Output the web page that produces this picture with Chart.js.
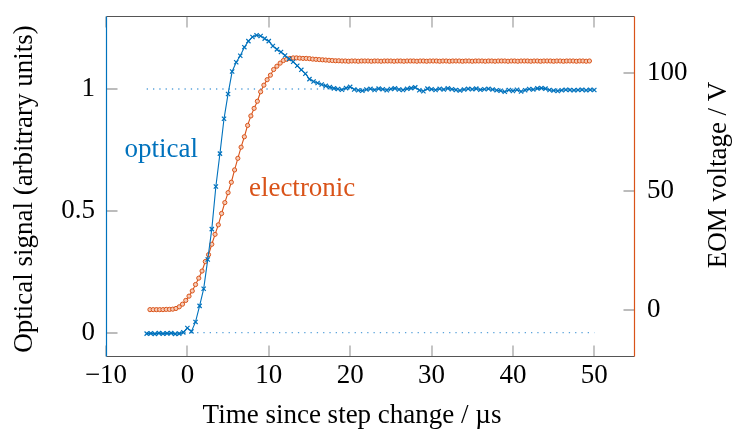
<!DOCTYPE html>
<html>
<head>
<meta charset="utf-8">
<script src="https://cdn.jsdelivr.net/npm/chart.js@4/dist/chart.umd.min.js"></script>
<style>
html,body{margin:0;padding:0;background:#fff;}
canvas{display:block;}
</style>
</head>
<body>
<canvas id="c" width="733" height="437"></canvas>
<script>
// ---- data ----
const optTime = [-5,-4.5,-4,-3.5,-3,-2.5,-2,-1.5,-1,-0.5,
  0,0.5,1,1.5,2,2.5,3,3.5,4,4.5,
  5,5.5,6,6.5,7,7.5,8,8.5,9,9.5,
  10,10.5,11,11.5,12,12.5,13,13.5,14,14.5,
  15,15.5,16,16.5,17,17.5,18,18.5,19,19.5,
  20,20.5,21,21.5,22,22.5,23,23.5,24,24.5,
  25,25.5,26,26.5,27,27.5,28,28.5,29,29.5,
  30,30.5,31,31.5,32,32.5,33,33.5,34,34.5,
  35,35.5,36,36.5,37,37.5,38,38.5,39,39.5,
  40,40.5,41,41.5,42,42.5,43,43.5,44,44.5,
  45,45.5,46,46.5,47,47.5,48,48.5,49,49.5,50];
const optSignal = [-0.004,-0.003,-0.005,-0.002,-0.004,-0.003,-0.002,-0.005,-0.004,0.001,
  0.019,0.005,0.044,0.110,0.180,0.300,0.425,0.600,0.735,0.878,
  0.980,1.072,1.110,1.137,1.172,1.197,1.214,1.221,1.218,1.207,
  1.197,1.177,1.163,1.152,1.138,1.124,1.112,1.096,1.079,1.063,
  1.041,1.031,1.025,1.019,1.013,1.008,1.003,1.000,0.997,1.004,
  1.009,0.998,0.995,0.993,0.998,1.001,0.996,1.002,0.999,0.995,
  1.000,1.003,0.998,0.996,1.001,1.004,1.007,0.995,0.991,1.002,
  0.999,0.996,1.001,0.998,1.003,0.999,0.996,0.994,0.998,1.001,
  0.999,1.002,0.997,0.999,1.001,0.998,0.995,0.993,0.989,0.996,
  0.992,0.997,0.990,0.995,1.000,0.998,1.003,1.004,1.002,0.996,
  0.994,0.992,0.995,0.997,0.996,0.995,0.996,0.997,0.995,0.997,0.996];
const eomTime = [-4.6,-4.2,-3.8,-3.4,-3.0,-2.6,-2.2,-1.8,-1.4,-1.0,
  -0.6,-0.2,0.2,0.6,1.0,1.4,1.8,2.2,2.6,3.0,
  3.4,3.8,4.2,4.6,5.0,5.4,5.8,6.2,6.6,7.0,
  7.4,7.8,8.2,8.6,9.0,9.4,9.8,10.2,10.6,11.0,
  11.4,11.8,12.2,12.6,13.0,13.4,13.8,14.2,14.6,15.0,
  15.4,15.8,16.2,16.6,17.0,17.4,17.8,18.2,18.6,19.0,
  19.4,19.8,20.2,20.6,21.0,21.4,21.8,22.2,22.6,23.0,
  23.4,23.8,24.2,24.6,25.0,25.4,25.8,26.2,26.6,27.0,
  27.4,27.8,28.2,28.6,29.0,29.4,29.8,30.2,30.6,31.0,
  31.4,31.8,32.2,32.6,33.0,33.4,33.8,34.2,34.6,35.0,
  35.4,35.8,36.2,36.6,37.0,37.4,37.8,38.2,38.6,39.0,
  39.4,39.8,40.2,40.6,41.0,41.4,41.8,42.2,42.6,43.0,
  43.4,43.8,44.2,44.6,45.0,45.4,45.8,46.2,46.6,47.0,
  47.4,47.8,48.2,48.6,49.0,49.4];
const eomVoltage = [0.0,0.0,0.0,0.0,0.0,0.1,0.1,0.2,0.5,1.2,
  2.3,3.9,5.7,7.9,10.6,13.3,16.3,20.3,23.2,27.6,
  31.8,35.8,40.6,45.2,49.4,53.8,59.0,63.9,68.6,73.0,
  77.8,81.8,85.0,88.0,92.0,94.8,97.1,99.0,101.4,102.8,
  104.1,105.2,105.7,106.1,106.3,106.3,106.2,106.1,106.1,106.0,
  105.8,105.7,105.6,105.5,105.4,105.3,105.2,105.1,105.1,105.0,
  105.0,104.9,105.0,105.0,104.9,105.0,105.0,105.0,104.9,105.0,
  105.0,104.9,105.0,105.0,105.0,104.9,105.0,105.0,104.9,105.0,
  105.0,105.0,104.9,105.0,105.0,104.9,105.0,105.0,105.0,104.9,
  105.0,105.0,104.9,105.0,105.0,105.0,104.9,105.0,105.0,104.9,
  105.0,105.0,105.0,104.9,105.0,105.0,104.9,105.0,105.0,105.0,
  104.9,105.0,105.0,104.9,105.0,105.0,105.0,104.9,105.0,105.0,
  104.9,105.0,105.0,105.0,104.9,105.0,105.0,104.9,105.0,105.0,
  105.0,104.9,105.0,105.0,104.9,105.0];
const refTime = [-5, 50];
const refLevels = [0, 1];
const xTicks = [-10, 0, 10, 20, 30, 40, 50];
const yTicks = [0, 0.5, 1];
const y2Ticks = [0, 50, 100];
const seriesNames = ['optical', 'electronic'];
const xTitle = 'Time since step change / \u00b5s';
const yTitle = 'Optical signal (arbitrary units)';
const y2Title = 'EOM voltage / V';

// ---- style ----
const BLUE = '#0072BD';
const ORANGE = '#D95319';
const FONT = '"Liberation Serif", "Times New Roman", serif';
const FS = 27;

const zip = (xs, ys) => xs.map((x, i) => ({x: x, y: ys[i]}));
const fmt = v => String(v).replace('-', '\u2212');

const datasets = refLevels.map(l => ({
  data: zip(refTime, [l, l]), yAxisID: 'y', borderColor: '#5aa3db', borderWidth: 1.4,
  borderDash: [1.3, 5], pointRadius: 0, fill: false, order: 3
}));
datasets.push({
  label: seriesNames[1], data: zip(eomTime, eomVoltage), yAxisID: 'y2',
  borderColor: ORANGE, borderWidth: 1.1, pointStyle: 'circle', pointRadius: 2.1,
  pointBorderWidth: 1, pointBorderColor: ORANGE, pointBackgroundColor: '#f6cbb6',
  fill: false, tension: 0, order: 2
});
datasets.push({
  label: seriesNames[0], data: zip(optTime, optSignal), yAxisID: 'y',
  borderColor: BLUE, borderWidth: 1.1, pointStyle: 'crossRot', pointRadius: 3,
  pointBorderWidth: 1.2, pointBorderColor: BLUE, fill: false, tension: 0, order: 1
});

const tickFont = {family: FONT, size: FS};

const frame = {
  id: 'frame',
  afterDraw(chart) {
    const ctx = chart.ctx, a = chart.chartArea;
    const sx = chart.scales.x, sy = chart.scales.y, sy2 = chart.scales.y2;
    const L = Math.round(a.left) + 0.5, R = Math.round(a.right) - 0.5;
    const T = Math.round(a.top) + 0.5, B = Math.round(a.bottom) - 0.5;
    const TL = 11;
    ctx.save();
    ctx.strokeStyle = '#a6a6a6';
    ctx.lineWidth = 1.3;
    ctx.beginPath();
    xTicks.forEach(v => {
      const p = Math.round(sx.getPixelForValue(v));
      ctx.moveTo(p, B); ctx.lineTo(p, B - TL);
      ctx.moveTo(p, T); ctx.lineTo(p, T + TL);
    });
    yTicks.forEach(v => {
      const p = Math.round(sy.getPixelForValue(v));
      ctx.moveTo(L, p); ctx.lineTo(L + TL, p);
    });
    y2Ticks.forEach(v => {
      const p = Math.round(sy2.getPixelForValue(v));
      ctx.moveTo(R, p); ctx.lineTo(R - TL, p);
    });
    ctx.stroke();
    ctx.lineWidth = 1.2;
    ctx.strokeStyle = '#555555';
    ctx.beginPath();
    ctx.moveTo(L, T); ctx.lineTo(R, T);
    ctx.moveTo(L, B); ctx.lineTo(R, B);
    ctx.stroke();
    ctx.strokeStyle = BLUE;
    ctx.beginPath(); ctx.moveTo(L, T); ctx.lineTo(L, B); ctx.stroke();
    ctx.strokeStyle = ORANGE;
    ctx.beginPath(); ctx.moveTo(R, T); ctx.lineTo(R, B); ctx.stroke();

    // series annotations
    ctx.font = FS + 'px ' + FONT;
    ctx.textAlign = 'center';
    ctx.textBaseline = 'alphabetic';
    ctx.fillStyle = BLUE;
    ctx.fillText(seriesNames[0], sx.getPixelForValue(-3.2), sy.getPixelForValue(0.721));
    ctx.fillStyle = ORANGE;
    ctx.fillText(seriesNames[1], sx.getPixelForValue(14.1), sy.getPixelForValue(0.561));

    // axis titles
    ctx.fillStyle = '#000';
    ctx.fillText(xTitle, 352, 423);
    ctx.save();
    ctx.translate(32, 189);
    ctx.rotate(-Math.PI / 2);
    ctx.fillText(yTitle, 0, 0);
    ctx.restore();
    ctx.save();
    ctx.translate(726, 175);
    ctx.rotate(-Math.PI / 2);
    ctx.fillText(y2Title, 0, 0);
    ctx.restore();
    ctx.restore();
  }
};

function setTicks(list) {
  return s => { s.ticks = list.map(v => ({value: v})); };
}
function fixV(w) {
  return s => { s.width = w; s.paddingTop = 0; s.paddingBottom = 0; };
}

new Chart(document.getElementById('c'), {
  type: 'line',
  data: {datasets: datasets},
  options: {
    responsive: false, animation: false, devicePixelRatio: 1,
    layout: {padding: {top: 16, left: 0, right: 0, bottom: 0}},
    plugins: {legend: {display: false}, tooltip: {enabled: false}},
    scales: {
      x: {
        type: 'linear', position: 'bottom', min: -10, max: 55,
        afterBuildTicks: setTicks(xTicks),
        afterFit: s => { s.height = 80; s.paddingLeft = 0; s.paddingRight = 0; },
        grid: {display: false, drawTicks: false}, border: {display: false},
        ticks: {font: tickFont, color: '#000', padding: 3, maxRotation: 0, autoSkip: false, callback: v => fmt(v)}
      },
      y: {
        type: 'linear', position: 'left', min: -0.1, max: 1.3,
        afterBuildTicks: setTicks(yTicks), afterFit: fixV(106),
        grid: {display: false, drawTicks: false}, border: {display: false},
        ticks: {font: tickFont, color: '#000', padding: 11, autoSkip: false, callback: v => fmt(v)}
      },
      y2: {
        type: 'linear', position: 'right', min: -20, max: 124,
        afterBuildTicks: setTicks(y2Ticks), afterFit: fixV(98),
        grid: {display: false, drawTicks: false}, border: {display: false},
        ticks: {font: tickFont, color: '#000', padding: 12, autoSkip: false, callback: v => fmt(v)}
      }
    }
  },
  plugins: [frame]
});
</script>
</body>
</html>
